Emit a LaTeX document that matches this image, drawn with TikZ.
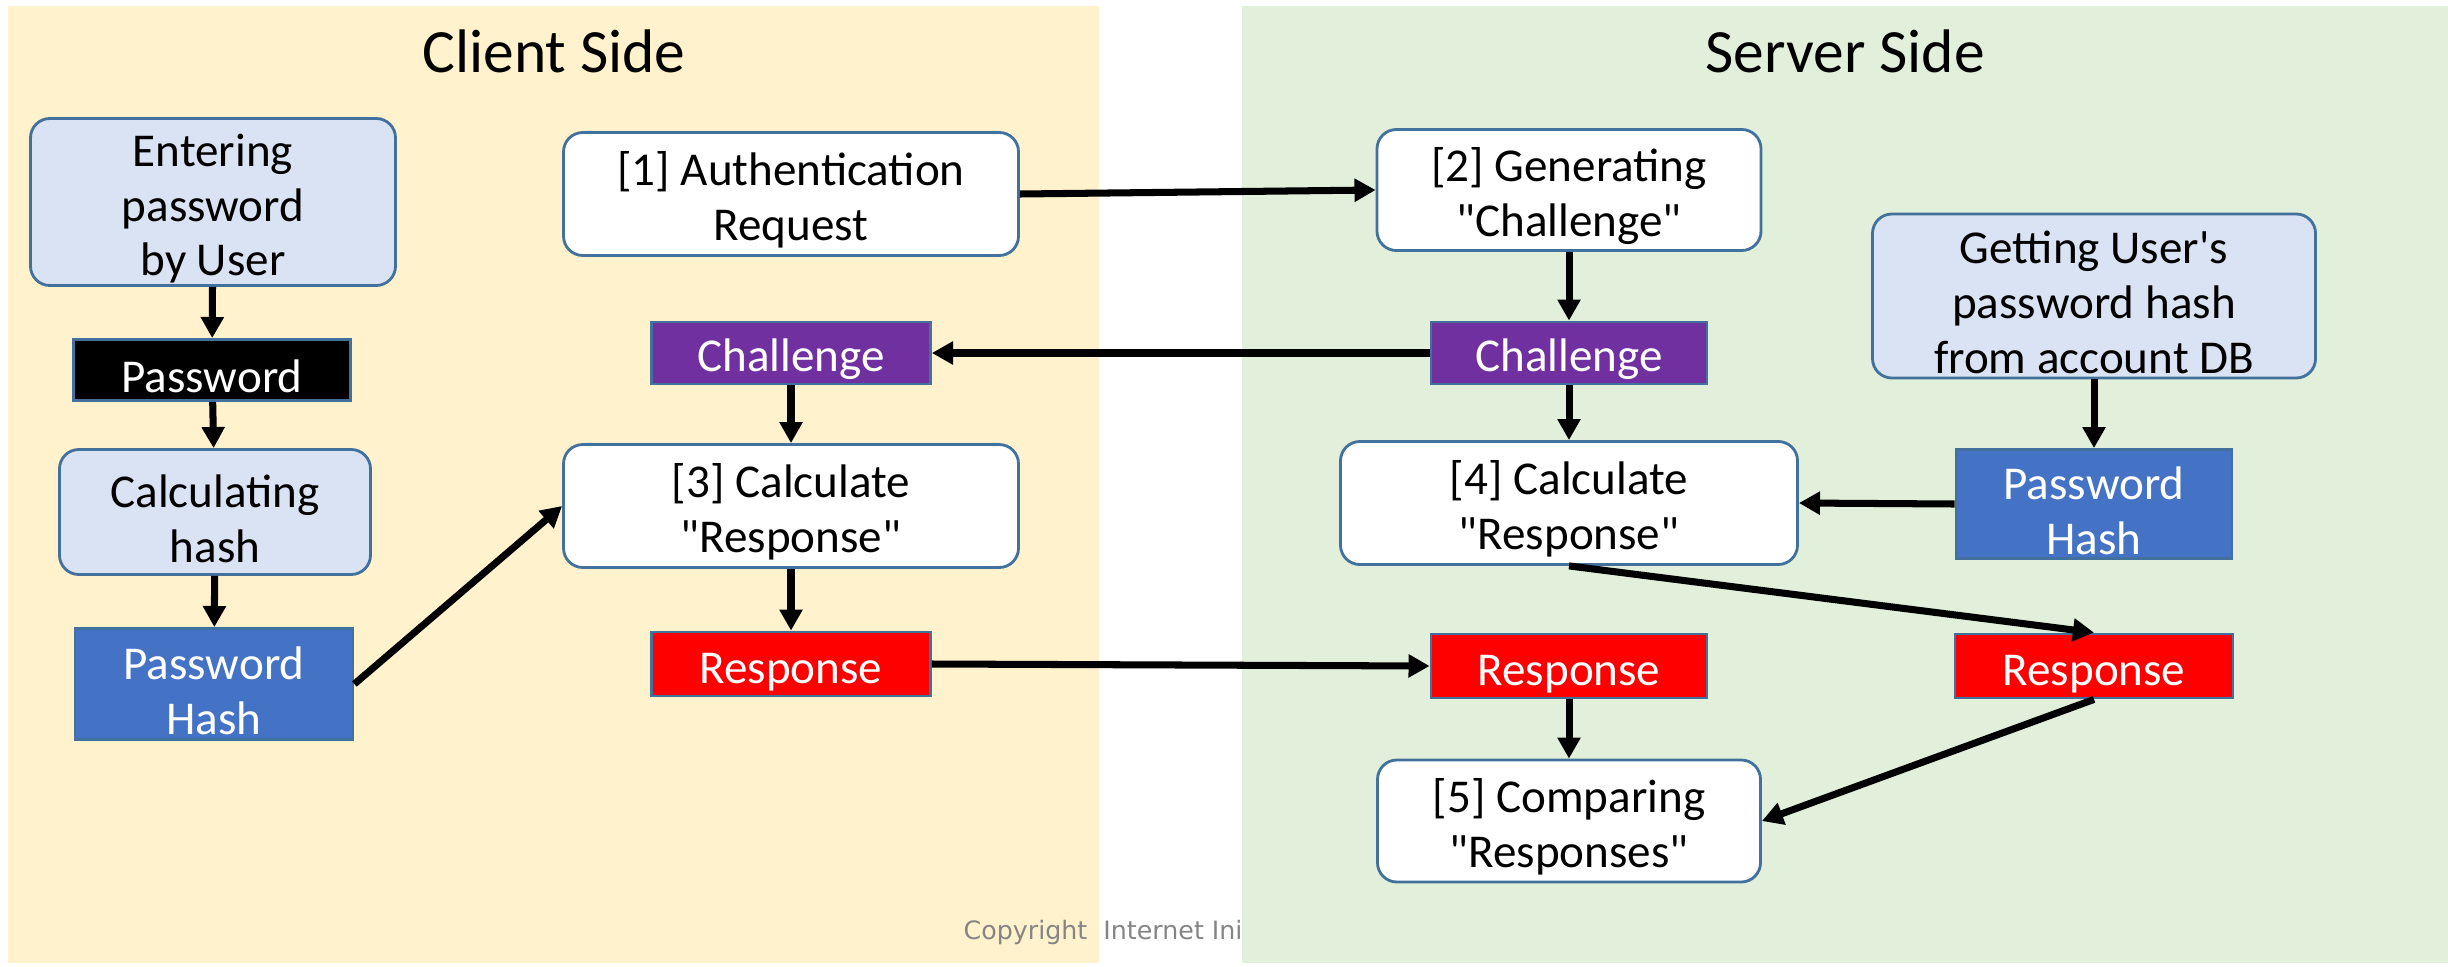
\documentclass[tikz,border=0pt]{standalone}
\usepackage{fontspec}
\setmainfont{Carlito}[Ligatures=TeXOff]
\newfontfamily\copyfont{DejaVu Sans}
\usetikzlibrary{arrows.meta}
\definecolor{clientbg}{HTML}{FFF2CC}
\definecolor{serverbg}{HTML}{E2EFDA}
\definecolor{boxline}{HTML}{41719C}
\definecolor{userfill}{HTML}{DAE3F3}
\definecolor{hashfill}{HTML}{4472C4}
\definecolor{chalfill}{HTML}{7030A0}
\definecolor{respfill}{HTML}{FF0000}
\definecolor{copygray}{HTML}{858585}
\newcommand{\boxfont}{\fontsize{13.4}{15.6}\selectfont}
\newcommand{\sidefont}{\fontsize{17.5}{20}\selectfont}
\newcommand{\lift}{\rule{0pt}{13pt}}
\tikzset{
  stepbox/.style={draw=boxline, line width=0.8pt, rounded corners=5.5pt, fill=white,
    align=center, inner sep=0pt, font=\boxfont},
  userbox/.style={stepbox, fill=userfill},
  databox/.style={draw=boxline, line width=0.8pt, align=center, inner sep=0pt,
    text=white, font=\boxfont},
  flow/.style={line width=2pt, -{Triangle[length=6pt,width=6.3pt]}}
}

\begin{document}
\begin{tikzpicture}
			%%%%% START %%%%%
			\useasboundingbox (0, 0) rectangle (24.48, 9.66);
			
			% client side
			\fill[clientbg] (0.08, 0.03) rectangle (10.99, 9.60);
			\node[font=\sidefont] (clienttitle) at (5.54, 9.15) {Client Side};
			\node[anchor=base west, font=\copyfont\fontsize{7.2}{8}\selectfont, text=copygray, inner sep=0pt] (copyright) at (9.63, 0.27) {Copyright~~Internet Ini};
			
			% server side
			\fill[serverbg] (12.42, 0.03) rectangle (24.48, 9.60);
			\node[font=\sidefont] (servertitle) at (18.45, 9.15) {Server Side};
			
			% client boxes
			\node[userbox, minimum width=3.65cm, minimum height=1.67cm] (enter) at (2.13, 7.64) {\lift Entering\\password\\by User};
			\node[databox, fill=black, minimum width=2.77cm, minimum height=0.61cm] (pwd) at (2.12, 5.96) {\lift Password};
			\node[userbox, minimum width=3.11cm, minimum height=1.25cm] (calc) at (2.15, 4.54) {\lift Calculating\\hash};
			\node[databox, fill=hashfill, minimum width=2.78cm, minimum height=1.11cm] (hashc) at (2.14, 2.82) {\lift Password\\Hash};
			
			\node[stepbox, minimum width=4.55cm, minimum height=1.23cm] (authreq) at (7.91, 7.72) {\lift [1] Authentication\\Request};
			\node[databox, fill=chalfill, minimum width=2.79cm, minimum height=0.62cm] (chalc) at (7.91, 6.13) {\lift Challenge};
			\node[stepbox, minimum width=4.55cm, minimum height=1.23cm] (calcc) at (7.91, 4.60) {\lift [3] Calculate\\"Response"};
			\node[databox, fill=respfill, minimum width=2.79cm, minimum height=0.64cm] (respc) at (7.91, 3.02) {\lift Response};
			
			% server boxes
			\node[stepbox, minimum width=3.84cm, minimum height=1.21cm] (genchal) at (15.69, 7.76) {\lift [2] Generating\\"Challenge"};
			\node[databox, fill=chalfill, minimum width=2.76cm, minimum height=0.62cm] (chals) at (15.69, 6.13) {\lift Challenge};
			\node[stepbox, minimum width=4.57cm, minimum height=1.23cm] (calcs) at (15.69, 4.63) {\lift [4] Calculate\\"Response"};
			\node[databox, fill=respfill, minimum width=2.76cm, minimum height=0.64cm] (respm) at (15.69, 3.00) {\lift Response};
			\node[stepbox, minimum width=3.83cm, minimum height=1.22cm] (compare) at (15.69, 1.45) {\lift [5] Comparing\\"Responses"};
			
			\node[userbox, minimum width=4.43cm, minimum height=1.64cm] (getdb) at (20.94, 6.70) {\lift Getting User's\\password hash\\from account DB};
			\node[databox, fill=hashfill, minimum width=2.76cm, minimum height=1.09cm] (hashs) at (20.94, 4.62) {\lift Password\\Hash};
			\node[databox, fill=respfill, minimum width=2.78cm, minimum height=0.64cm] (respr) at (20.94, 3.00) {\lift Response};
			
			% flows
			\draw[flow] (enter) -- (pwd);
			\draw[flow] (pwd) -- (calc);
			\draw[flow] (calc) -- (hashc);
			\draw[flow] (hashc.east) -- (calcc.west);
			\draw[flow] (authreq.east) -- (genchal.west);
			\draw[flow] (genchal) -- (chals);
			\draw[flow] (chals.west) -- (chalc.east);
			\draw[flow] (chalc) -- (calcc);
			\draw[flow] (calcc) -- (respc);
			\draw[flow] (respc.east) -- (respm.west);
			\draw[flow] (chals) -- (calcs);
			\draw[flow] (getdb) -- (hashs);
			\draw[flow] (hashs.west) -- (calcs.east);
			\draw[flow] (calcs.south) -- (respr.north);
			\draw[flow] (respm) -- (compare);
			\draw[flow] (respr.south) -- (compare.east);
			%%%%% END %%%%%
\end{tikzpicture}
\end{document}
